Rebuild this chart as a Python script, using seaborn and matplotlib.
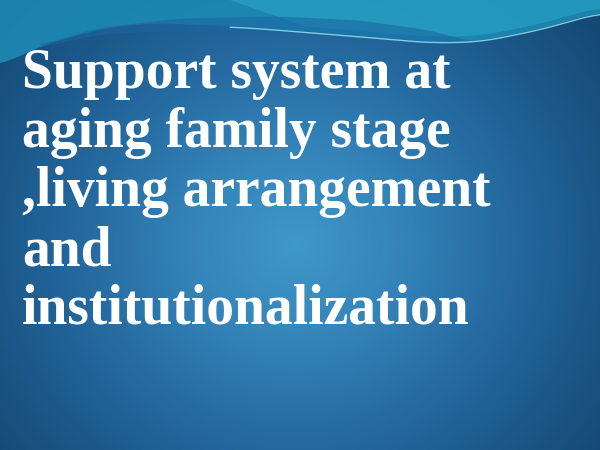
import numpy as np
import matplotlib.pyplot as plt
import seaborn as sns
from matplotlib.colors import LinearSegmentedColormap

# slide text, one entry per line
title_lines = [
    "Support system at",
    "aging family stage",
    ",living arrangement",
    "and",
    "institutionalization",
]

bg_colors = ["#3f98ca", "#3585ba", "#266ca2", "#1b5788", "#144670"]

# top wave outline (x, y in pixels)
wave_x = [0, 40, 100, 150, 250, 350, 430, 480, 540, 600]
wave_y = [66, 46, 29, 23, 27, 35, 42, 41, 29, 12]
ribbon_x = [40, 100, 180, 280, 360, 430, 470]
ribbon_top = [44, 27, 18, 16, 20, 30, 41]
ribbon_bot = [47, 34, 30, 32, 37, 41, 42]


def smooth(v, k=31):
    return np.convolve(np.pad(v, k // 2, mode="edge"), np.ones(k) / k, mode="valid")


sns.set_theme(style="white")
plt.rcParams["font.family"] = ["Liberation Serif", "DejaVu Serif"]

fig = plt.figure(figsize=(6, 4.5), dpi=100)
ax = fig.add_axes([0, 0, 1, 1])
ax.set_xlim(0, 600)
ax.set_ylim(450, 0)
ax.axis("off")

# radial background gradient
yy, xx = np.mgrid[0:450, 0:600]
r = np.sqrt(((xx - 295) / 360) ** 2 + ((yy - 245) / 330) ** 2)
cmap = LinearSegmentedColormap.from_list("bg", bg_colors)
ax.imshow(np.clip(r / 1.2, 0, 1), cmap=cmap, extent=(0, 600, 450, 0), aspect="auto", zorder=0)

# teal wave band at the top
x = np.linspace(0, 600, 400)
b = smooth(np.interp(x, wave_x, wave_y))
ax.fill_between(x, 0, b, color="#1c8db6", alpha=0.85, lw=0, zorder=1)

# lighter teal on the right, tapering in from the left
light_low = np.minimum(b - 5, np.clip((x - 230) * 0.35, 0, None))
ax.fill_between(x, 0, light_low, color="#2aa5c6", alpha=0.6, lw=0, zorder=1)

# darker ribbon inside the wave
xr = np.linspace(40, 470, 300)
t = smooth(np.interp(xr, ribbon_x, ribbon_top), 21)
bt = smooth(np.interp(xr, ribbon_x, ribbon_bot), 21)
ax.fill_between(xr, t, bt, color="#1d64a0", alpha=0.55, lw=0, zorder=2)

# bright highlight along the lower edge
hx = x > 230
ax.plot(x[hx], b[hx] + 1, color="#8ee4f2", lw=1.0, alpha=0.85, zorder=2)

for i, txt in enumerate(title_lines):
    ax.text(22, 88 + i * 59, txt, color="white", fontsize=40, fontweight="bold",
            ha="left", va="baseline", zorder=3)

fig.savefig("out.png", dpi=100)
